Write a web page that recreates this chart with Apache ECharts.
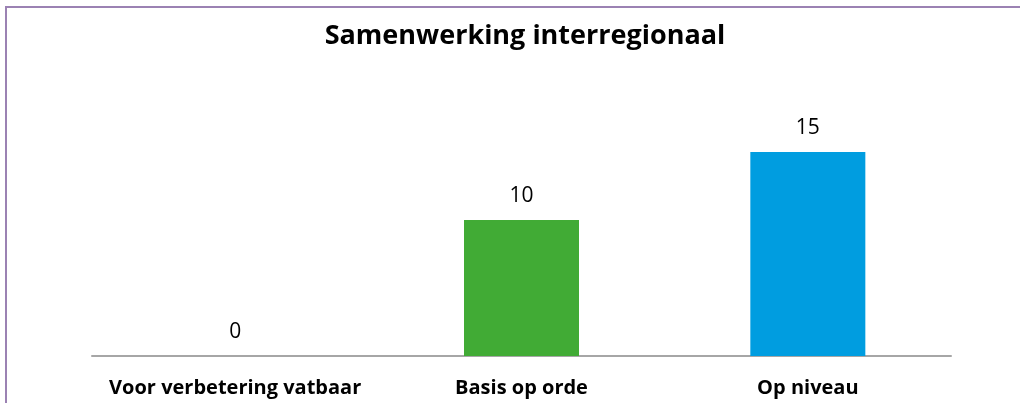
<!DOCTYPE html>
<html>
<head>
<meta charset="utf-8">
<script src="https://cdn.jsdelivr.net/npm/echarts@6/dist/echarts.min.js"></script>
<style>
  html, body { margin: 0; padding: 0; background: #fff; }
  #chart { width: 1020px; height: 403px; }
</style>
</head>
<body>
<div id="chart"></div>
<script>
var categories = ['Voor verbetering vatbaar', 'Basis op orde', 'Op niveau']
var values = [0, 10, 15]
var barColors = ['#41ab35', '#41ab35', '#009de0']

var myChart = echarts.init(document.querySelector('#chart'))

myChart.setOption({
  animation: false,
  textStyle: { fontFamily: 'Open Sans' },
  title: {
    text: 'Samenwerking interregionaal',
    left: 520,
    top: 18,
    textAlign: 'center',
    textStyle: { fontSize: 27, fontWeight: 'bold', color: '#000', fontFamily: 'Open Sans' }
  },
  // frame of the original slide (only top and left edges visible)
  graphic: [{
    type: 'rect',
    shape: { x: 6, y: 7, width: 1100, height: 500 },
    style: { fill: 'none', stroke: '#9b82b3', lineWidth: 2 },
    silent: true
  }],
  grid: { left: 92, right: 69, top: 84, bottom: 47 },
  xAxis: {
    type: 'category',
    data: categories,
    axisLine: { lineStyle: { color: '#a6a6a6', width: 2 } },
    axisTick: { show: false },
    axisLabel: { margin: 22, fontSize: 20, fontWeight: 'bold', color: '#000', interval: 0 }
  },
  yAxis: {
    type: 'value',
    min: 0,
    max: 20,
    show: false,
    splitLine: { show: false }
  },
  series: [{
    type: 'bar',
    barWidth: 115,
    data: values.map(function (v, i) {
      return { value: v, itemStyle: { color: barColors[i] } }
    }),
    label: {
      show: true,
      position: 'top',
      distance: 13,
      fontSize: 21,
      color: '#000'
    }
  }]
})
</script>
</body>
</html>
